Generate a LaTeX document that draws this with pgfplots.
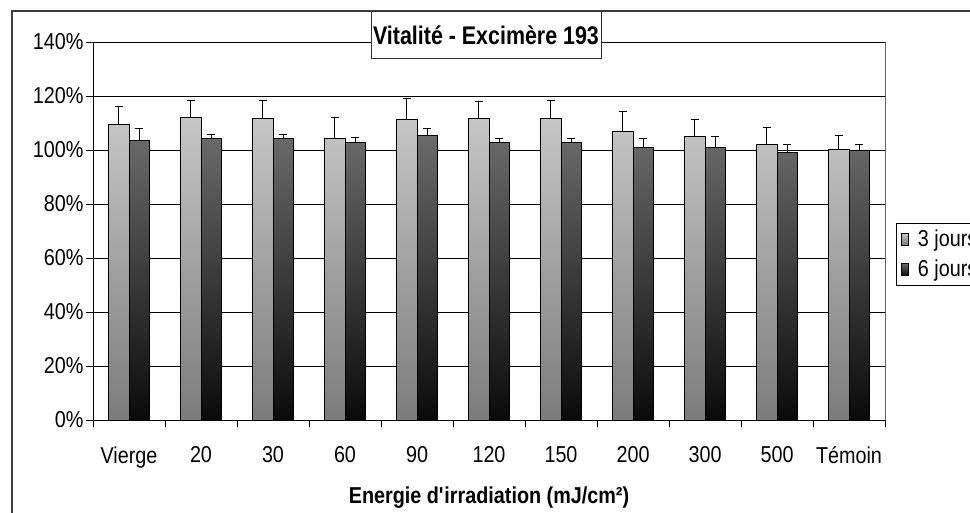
\documentclass[border=0pt]{standalone}
\usepackage{fontspec}
\setmainfont[FakeStretch=0.86]{Liberation Sans}
\usepackage{pgfplots}
\pgfplotsset{compat=1.18}
\definecolor{lighttop}{HTML}{C6C6C6}
\definecolor{lightbot}{HTML}{7C7C7C}
\definecolor{darktop}{HTML}{6A6A6A}
\definecolor{darkbot}{HTML}{0A0A0A}
\begin{document}
\begin{tikzpicture}
\useasboundingbox (0,0) rectangle (970bp,513bp);
\draw[line width=1.2bp, black!75] (12bp,-20bp) -- (12bp,502bp) -- (1000bp,502bp);
\begin{axis}[
  at={(93bp,93bp)}, anchor=south west,
  scale only axis, width=792bp, height=378bp,
  ybar=0pt, bar width=20.5bp,
  xmin=-0.5, xmax=10.5, ymin=0, ymax=140,
  xtick={0,...,10},
  xticklabels={Vierge,20,30,60,90,120,150,200,300,500,Témoin},
  minor xtick={-0.5,0.5,...,10.5},
  major x tick style={draw=none},
  minor x tick style={black, line width=0.8bp},
  minor tick length=7bp,
  ytick={0,20,...,140},
  major tick length=7bp,
  y tick style={black, line width=0.8bp},
  tick align=outside,
  axis x line*=bottom, axis y line*=left,
  axis line style={black, line width=1bp, -},
  ymajorgrids, grid style={black, line width=0.8bp},
  yticklabel={\pgfmathprintnumber{\tick}\%},
  /pgf/number format/assume math mode=true,
  ticklabel style={font=\fontsize{23bp}{26bp}\selectfont},
  yticklabel style={xshift=1bp},
  xticklabel style={yshift=-16bp},
  xlabel={\textbf{Energie d\textquotesingle irradiation (mJ/cm²)}},
  every axis x label/.style={at={(axis description cs:0.5,0)}, anchor=center, yshift=-78bp, font=\fontsize{23bp}{26bp}\selectfont},
  legend style={at={(rel axis cs:1.0135,0.522)}, anchor=north west, draw=black, line width=0.8bp,
    font=\fontsize{23bp}{26bp}\selectfont, inner xsep=5bp, inner ysep=5bp, row sep=8bp,
    /tikz/every odd column/.append style={column sep=7bp}},
  legend image code/.code={\draw[#1, line width=0.8bp] (0bp,-6bp) rectangle (7bp,6bp);},
  error bars/y dir=plus, error bars/y explicit,
  error bars/error bar style={black, line width=1bp},
  error bars/error mark options={rotate=90, mark size=4bp, line width=1bp, black},
  clip=false,
]
\addplot[draw=black, line width=0.9bp, top color=lighttop, bottom color=lightbot]
  coordinates {
  (0,109.4) +- (0,6.8)
  (1,112.2) +- (0,6.2)
  (2,111.7) +- (0,6.7)
  (3,104.3) +- (0,7.8)
  (4,111.2) +- (0,8.0)
  (5,111.5) +- (0,6.3)
  (6,111.5) +- (0,6.9)
  (7,107.0) +- (0,7.2)
  (8,105.0) +- (0,6.3)
  (9,102.0) +- (0,6.3)
  (10,100.1) +- (0,5.1)
  };
\addplot[draw=black, line width=0.9bp, top color=darktop, bottom color=darkbot]
  coordinates {
  (0,103.7) +- (0,4.4)
  (1,104.3) +- (0,1.6)
  (2,104.3) +- (0,1.6)
  (3,102.7) +- (0,2.1)
  (4,105.4) +- (0,2.5)
  (5,102.7) +- (0,1.7)
  (6,102.7) +- (0,1.7)
  (7,101.0) +- (0,3.1)
  (8,101.0) +- (0,4.0)
  (9,99.0) +- (0,2.9)
  (10,100.0) +- (0,2.2)
  };
\legend{3 jours, 6 jours}
\draw[black!60, line width=1bp] (rel axis cs:1,0) -- (rel axis cs:1,1);
\end{axis}
\node[draw=black!80, line width=0.8bp, fill=white, minimum width=230bp, minimum height=47bp, inner sep=0pt,
  font=\fontsize{25.5bp}{29bp}\selectfont\bfseries] at (486bp,478bp) {\addfontfeature{FakeStretch=0.84}Vitalité - Excimère 193};
\end{tikzpicture}
\end{document}
